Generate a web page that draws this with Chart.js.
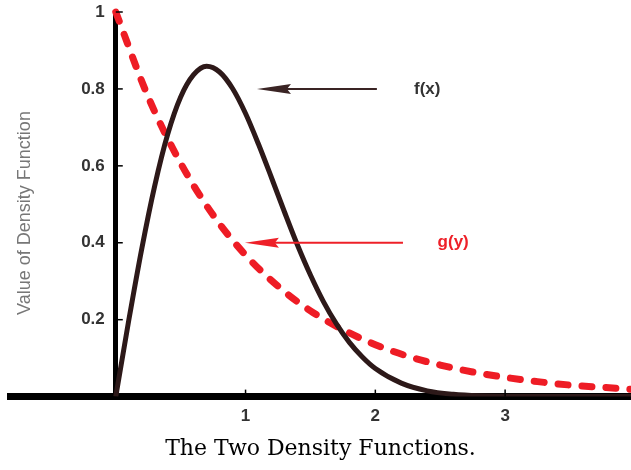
<!DOCTYPE html>
<html>
<head>
<meta charset="utf-8">
<script src="https://cdn.jsdelivr.net/npm/chart.js@4.4.1/dist/chart.umd.min.js"></script>
<style>
  html, body { margin: 0; padding: 0; background: #fff; }
  #chart-area { width: 631px; height: 470px; }
</style>
</head>
<body>
<div id="chart-area"><canvas id="c" width="631" height="470"></canvas></div>
<script>
// f(x)
const fX = [0, 0.1, 0.2, 0.3, 0.4, 0.5, 0.6, 0.7, 0.8, 0.9, 1.0, 1.1, 1.2, 1.3, 1.4, 1.5, 1.6, 1.7, 1.8, 1.9, 2.0, 2.2, 2.4, 2.6, 2.8, 3.0, 3.5, 3.97];
const fY = [0, 0.198, 0.384, 0.548, 0.682, 0.779, 0.837, 0.859, 0.844, 0.801, 0.736, 0.656, 0.569, 0.480, 0.394, 0.316, 0.247, 0.189, 0.141, 0.103, 0.073, 0.035, 0.015, 0.006, 0.002, 0.001, 0, 0];

// g(y)
const gX = [0, 0.25, 0.5, 0.75, 1.0, 1.25, 1.5, 1.75, 2.0, 2.25, 2.5, 2.75, 3.0, 3.25, 3.5, 3.75, 3.97];
const gY = [1, 0.779, 0.607, 0.472, 0.368, 0.287, 0.223, 0.174, 0.135, 0.105, 0.082, 0.064, 0.050, 0.039, 0.030, 0.024, 0.019];

const xTicks = [1, 2, 3];
const yTicks = [0.2, 0.4, 0.6, 0.8, 1];
const yTickLabels = ['0.2', '0.4', '0.6', '0.8', '1'];

// arrows: [tipX, tailX, y] in data units
const arrowF = [1.088, 2.012, 0.8];
const arrowG = [0.995, 2.213, 0.4];
const labelF = ['f(x)', 2.40, 0.8];
const labelG = ['g(y)', 2.60, 0.4];

const tickFont = 'bold 17px "Liberation Sans", Arial, sans-serif';

const toPoints = (xs, ys) => xs.map((x, i) => ({ x: x, y: ys[i] }));

const decorations = {
  id: 'decorations',
  afterDraw(chart) {
    const ctx = chart.ctx;
    const xs = chart.scales.x, ys = chart.scales.y;
    const x0 = xs.getPixelForValue(0), y0 = ys.getPixelForValue(0);
    ctx.save();
    // inner tick marks
    ctx.strokeStyle = '#000';
    ctx.lineWidth = 1.5;
    xTicks.forEach(v => {
      const px = xs.getPixelForValue(v);
      ctx.beginPath(); ctx.moveTo(px, y0); ctx.lineTo(px, y0 - 7); ctx.stroke();
    });
    yTicks.forEach(v => {
      const py = ys.getPixelForValue(v);
      ctx.beginPath(); ctx.moveTo(x0, py); ctx.lineTo(x0 + 7, py); ctx.stroke();
    });

    // y tick labels, left of the axis
    ctx.font = tickFont;
    ctx.fillStyle = '#333';
    ctx.textAlign = 'right';
    ctx.textBaseline = 'middle';
    yTicks.forEach((v, i) => {
      ctx.fillText(yTickLabels[i], x0 - 11, ys.getPixelForValue(v));
    });

    const drawArrow = (a, color) => {
      const tip = xs.getPixelForValue(a[0]);
      const tail = xs.getPixelForValue(a[1]);
      const py = ys.getPixelForValue(a[2]);
      ctx.strokeStyle = color;
      ctx.fillStyle = color;
      ctx.lineWidth = 2;
      ctx.beginPath(); ctx.moveTo(tip + 20, py); ctx.lineTo(tail, py); ctx.stroke();
      ctx.beginPath();
      ctx.moveTo(tip, py);
      ctx.lineTo(tip + 34, py - 5);
      ctx.lineTo(tip + 30, py);
      ctx.lineTo(tip + 34, py + 5);
      ctx.closePath();
      ctx.fill();
    };
    drawArrow(arrowF, '#3a2424');
    drawArrow(arrowG, '#ee2028');

    ctx.font = 'bold 17px "Liberation Sans", Arial, sans-serif';
    ctx.textAlign = 'center';
    ctx.fillStyle = '#333';
    ctx.fillText(labelF[0], xs.getPixelForValue(labelF[1]), ys.getPixelForValue(labelF[2]));
    ctx.fillStyle = '#ee2028';
    ctx.fillText(labelG[0], xs.getPixelForValue(labelG[1]), ys.getPixelForValue(labelG[2]));

    // y axis title
    ctx.translate(25, 213);
    ctx.rotate(-Math.PI / 2);
    ctx.font = '18px "Liberation Sans", Arial, sans-serif';
    ctx.fillStyle = '#777';
    ctx.fillText('Value of Density Function', 0, 0);
    ctx.restore();
  }
};

new Chart(document.getElementById('c'), {
  type: 'line',
  data: {
    datasets: [{
      label: 'f(x)',
      data: toPoints(fX, fY),
      borderColor: '#2d1919',
      borderWidth: 5,
      pointRadius: 0,
      cubicInterpolationMode: 'monotone',
      fill: false
    }, {
      label: 'g(y)',
      data: toPoints(gX, gY),
      borderColor: '#ee1c25',
      borderWidth: 7,
      borderDash: [10, 14],
      borderCapStyle: 'round',
      pointRadius: 0,
      cubicInterpolationMode: 'monotone',
      fill: false,
      clip: false
    }]
  },
  options: {
    responsive: false,
    animation: false,
    layout: { padding: { left: 10, right: 0, top: 12, bottom: 0 } },
    plugins: {
      legend: { display: false },
      tooltip: { enabled: false },
      title: {
        display: true,
        position: 'bottom',
        text: 'The Two Density Functions.',
        color: '#000',
        font: { family: '"DejaVu Serif", serif', size: 22, weight: 'normal' },
        padding: { top: 39, bottom: 8 }
      }
    },
    scales: {
      x: {
        type: 'linear',
        min: -0.815,
        max: 3.97,
        position: { y: 0 },
        grid: { display: false },
        border: { color: '#000', width: 7 },
        ticks: {
          stepSize: 1,
          includeBounds: false,
          padding: 2,
          color: '#333',
          font: { family: '"Liberation Sans", Arial, sans-serif', size: 17, weight: 'bold' },
          callback: v => (xTicks.includes(v) ? String(v) : '')
        }
      },
      y: {
        type: 'linear',
        min: 0,
        max: 1,
        position: { x: 0 },
        grid: { display: false },
        border: { color: '#000', width: 5 },
        ticks: { display: false, stepSize: 0.2 }
      }
    }
  },
  plugins: [decorations]
});
</script>
</body>
</html>
